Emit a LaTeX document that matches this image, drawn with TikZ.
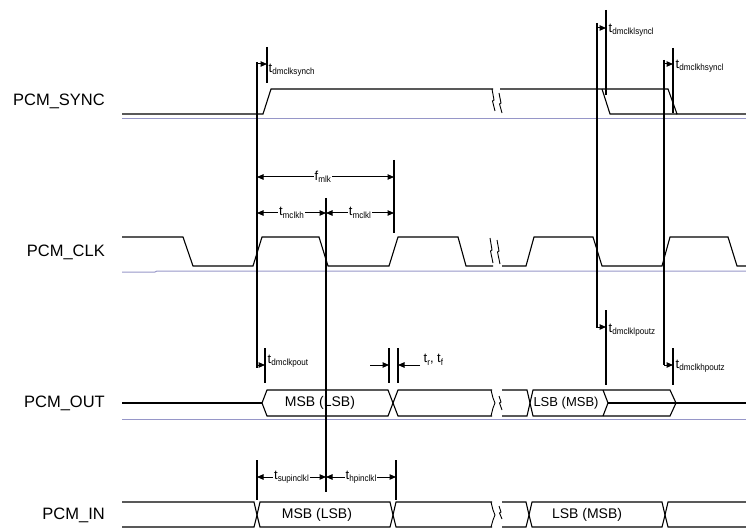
\documentclass[tikz,border=0pt]{standalone}
\usepackage{fontspec}
\setmainfont{Liberation Sans}
\newfontfamily\subfont[FakeStretch=0.9]{Liberation Sans}
\usetikzlibrary{arrows.meta}
\definecolor{basecol}{RGB}{150,150,200}
\newcommand\tlab[2]{{\fontsize{13}{13}\selectfont #1}\raisebox{-2.5pt}{\subfont\fontsize{9}{9}\selectfont #2}}
\begin{document}
\begin{tikzpicture}[x=1pt,y=-1pt,
  sig/.style={line width=1.1pt, line join=miter},
  basel/.style={line width=1pt, draw=basecol},
  refl/.style={line width=1.1pt},
  brk/.style={line width=0.9pt},
  dimboth/.style={line width=1pt,{Triangle[length=6.5pt,width=5.5pt]}-{Triangle[length=6.5pt,width=5.5pt]}},
  dimone/.style={line width=1pt,-{Triangle[length=6.5pt,width=5.5pt]}},
  sname/.style={font=\fontsize{16.5}{16.5}\selectfont, anchor=east, inner sep=0pt},
  tlabel/.style={anchor=west, inner sep=0.5pt},
  mlabel/.style={fill=white, inner sep=1pt},
  blabel/.style={font=\fontsize{14}{14}\selectfont, inner sep=0pt}]
\useasboundingbox (0,0) rectangle (746,529);

% ---------- signal names
\node[sname] (nsync) at (105,101) {PCM\_SYNC};
\node[sname] (nclk)  at (105,252) {PCM\_CLK};
\node[sname] (nout)  at (105,403) {PCM\_OUT};
\node[sname] (nin)   at (105,515) {PCM\_IN};

% ---------- base lines
\draw[basel] (122,119) -- (746,119);
\draw[basel] (122,272) -- (155,272) -- (157,271) -- (746,271);
\draw[basel] (122,419) -- (746,419);

% ---------- PCM_SYNC
\draw[sig] (122,114) -- (263,114) -- (271,89) -- (493,89);
\draw[brk] (492,89) -- (494,100) -- (492.5,101) -- (495,111);
\draw[brk] (499,93) -- (501,103) -- (499.5,104) -- (502,113);
\draw[sig] (500,89) -- (668,89) -- (677,114) -- (746,114);
\draw[sig] (602,89) -- (610,114) -- (677,114);

% ---------- PCM_CLK
\draw[sig] (122,237) -- (183,237) -- (193,266) -- (253,266) -- (262,237) -- (319,237)
  -- (328,266) -- (389,266) -- (398,237) -- (458,237) -- (466,266) -- (493,266);
\draw[brk] (490,238) -- (492,250) -- (490.5,251) -- (493,263);
\draw[brk] (497,240) -- (499,251) -- (497.5,252) -- (500,264);
\draw[sig] (502,266) -- (526,266) -- (534,237) -- (593,237) -- (602,266) -- (662,266)
  -- (670,237) -- (728,237) -- (737,266) -- (746,266);

% ---------- PCM_OUT
\draw[sig] (122,403) -- (262,403);
\draw[sig] (262,403) -- (267,390) -- (388,390) -- (393,403) -- (388,416) -- (267,416) -- cycle;
\draw[sig] (492,390) -- (398,390) -- (393,403) -- (398,416) -- (492,416);
\draw[brk] (491,390) -- (493,398) -- (495,403) -- (493,408) -- (491,416);
\draw[brk] (499,396) -- (501,402) -- (499.5,403) -- (502,410);
\draw[sig] (502,390) -- (527,390) -- (530,403) -- (527,416) -- (502,416);
\draw[sig] (530,403) -- (533,390) -- (670,390) -- (676,403) -- (670,416) -- (533,416) -- cycle;
\draw[sig] (603,390) -- (608,403) -- (603,416);
\draw[sig] (608,403) -- (746,403);
\node[blabel] (outa) at (320,403) {MSB (LSB)};
\node[blabel,font=\fontsize{13}{13}\selectfont] (outb) at (566,403) {LSB (MSB)};

% ---------- PCM_IN
\draw[sig] (122,502) -- (254,502) -- (257,515) -- (254,527) -- (122,527);
\draw[sig] (257,515) -- (260,502) -- (390,502) -- (393,515) -- (390,527) -- (260,527) -- cycle;
\draw[sig] (492,502) -- (396,502) -- (393,515) -- (396,527) -- (492,527);
\draw[brk] (491,502) -- (493,510) -- (495,515) -- (493,520) -- (491,527);
\draw[brk] (499,506) -- (501,512) -- (499.5,513) -- (502,519);
\draw[sig] (502,502) -- (526,502) -- (529,515) -- (526,527) -- (502,527);
\draw[sig] (529,515) -- (532,502) -- (662,502) -- (665,515) -- (662,527) -- (532,527) -- cycle;
\draw[sig] (746,502) -- (668,502) -- (665,515) -- (668,527) -- (746,527);
\node[blabel] (ina) at (317,515) {MSB (LSB)};
\node[blabel] (inb) at (587,515) {LSB (MSB)};

% ---------- reference lines and ticks
\draw[refl] (257,62) -- (257,368);
\draw[refl] (326,198) -- (326,492);
\draw[refl] (394,160) -- (394,233);
\draw[refl] (597,23) -- (597,328);
\draw[refl] (664,60) -- (664,365);
\draw[refl] (267,47) -- (267,83);
\draw[refl] (606,10) -- (606,95);
\draw[refl] (673,48) -- (673,113);
\draw[refl] (265,348) -- (265,383);
\draw[refl] (389,348) -- (389,383);
\draw[refl] (398,348) -- (398,383);
\draw[refl] (606,310) -- (606,385);
\draw[refl] (673,348) -- (673,385);
\draw[refl] (257,460) -- (257,500);
\draw[refl] (396,460) -- (396,500);

% ---------- timing arrows
\draw[dimone] (257,64) -- (267,64);
\node[tlabel] (l1) at (268,70) {\tlab{t}{dmclksynch}};
\draw[dimone] (597,28) -- (606,28);
\node[tlabel] (l2) at (608,30) {\tlab{t}{dmclklsyncl}};
\draw[dimone] (664,64) -- (673,64);
\node[tlabel] (l3) at (675,66) {\tlab{t}{dmclkhsyncl}};

\draw[dimboth] (257,177) -- (394,177) node[mlabel,pos=0.48] (lf) {\tlab{f}{mlk}};
\draw[dimboth] (257,213) -- (326,213) node[mlabel,midway] (lh) {\tlab{t}{mclkh}};
\draw[dimboth] (326,213) -- (394,213) node[mlabel,midway] (ll) {\tlab{t}{mclkl}};

\draw[dimone] (257,365) -- (265,365);
\node[tlabel] (l4) at (267,361) {\tlab{t}{dmclkpout}};
\draw[dimone] (370,365) -- (389,365);
\draw[dimone] (420,365) -- (398,365);
\node[tlabel] (l5) at (423,360) {\tlab{t}{r}{\fontsize{13}{13}\selectfont, }\tlab{t}{f}};
\draw[dimone] (597,327) -- (606,327);
\node[tlabel] (l6) at (608,330) {\tlab{t}{dmclklpoutz}};
\draw[dimone] (664,365) -- (673,365);
\node[tlabel] (l7) at (675,366) {\tlab{t}{dmclkhpoutz}};

\draw[dimboth] (257,477) -- (326,477) node[mlabel,midway] (ls) {\tlab{t}{supinclkl}};
\draw[dimboth] (326,477) -- (396,477) node[mlabel,midway] (lp) {\tlab{t}{hpinclkl}};
\end{tikzpicture}
\end{document}
